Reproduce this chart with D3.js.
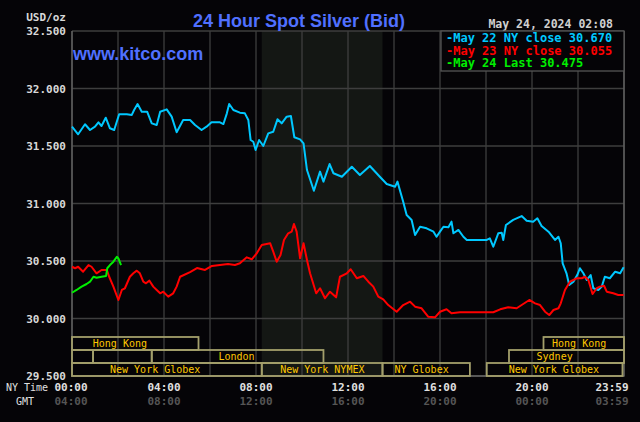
<!DOCTYPE html>
<html><head><meta charset="utf-8">
<script src="https://cdn.jsdelivr.net/npm/d3@7"></script>
<style>html,body{margin:0;padding:0;background:#050407;}svg{display:block}</style>
</head><body><svg id="c" width="640" height="422"></svg>
<script>
// ---- data (time in minutes after 00:00 NY time, price USD/oz) ----
const may22 = [[0,31.668],[16,31.602],[34,31.689],[47,31.639],[60,31.668],[69,31.706],[77,31.674],[88,31.746],[99,31.654],[110,31.639],[123,31.776],[143,31.776],[156,31.770],[162,31.813],[171,31.865],[182,31.798],[196,31.798],[208,31.697],[221,31.683],[230,31.798],[247,31.819],[260,31.755],[273,31.619],[290,31.726],[308,31.726],[321,31.683],[338,31.639],[351,31.668],[364,31.706],[386,31.706],[395,31.691],[404,31.784],[410,31.865],[421,31.813],[438,31.790],[451,31.784],[460,31.726],[466,31.552],[473,31.537],[479,31.465],[488,31.552],[499,31.500],[512,31.610],[525,31.624],[536,31.732],[547,31.697],[560,31.755],[571,31.761],[580,31.576],[595,31.558],[604,31.523],[613,31.291],[631,31.111],[647,31.277],[656,31.190],[672,31.343],[682,31.263],[704,31.233],[730,31.320],[751,31.248],[777,31.326],[803,31.233],[821,31.170],[843,31.146],[849,31.190],[864,31.016],[873,30.900],[886,30.857],[895,30.726],[908,30.798],[925,30.784],[943,30.755],[951,30.711],[960,30.755],[969,30.798],[982,30.793],[990,30.842],[995,30.741],[1008,30.770],[1021,30.711],[1030,30.683],[1082,30.683],[1090,30.697],[1099,30.624],[1112,30.741],[1121,30.746],[1125,30.683],[1132,30.813],[1151,30.857],[1173,30.891],[1186,30.850],[1203,30.842],[1214,30.871],[1225,30.804],[1243,30.755],[1260,30.683],[1269,30.711],[1275,30.654],[1280,30.480],[1290,30.393],[1297,30.291],[1308,30.320],[1318,30.378],[1325,30.437],[1334,30.393],[1343,30.335],[1353,30.378],[1360,30.263],[1373,30.248],[1382,30.277],[1390,30.363],[1403,30.350],[1417,30.407],[1430,30.393],[1439,30.445]];
const may23 = [[0,30.450],[8,30.437],[16,30.450],[29,30.407],[43,30.465],[51,30.450],[64,30.393],[77,30.422],[91,30.422],[97,30.363],[108,30.277],[121,30.161],[130,30.248],[138,30.263],[151,30.363],[160,30.393],[169,30.416],[177,30.393],[186,30.320],[193,30.306],[202,30.329],[212,30.277],[221,30.248],[230,30.219],[238,30.233],[251,30.190],[264,30.219],[273,30.277],[282,30.363],[308,30.404],[326,30.439],[347,30.422],[365,30.457],[386,30.465],[407,30.474],[425,30.465],[438,30.480],[456,30.532],[469,30.515],[482,30.567],[495,30.639],[517,30.654],[525,30.581],[534,30.494],[544,30.552],[553,30.683],[564,30.741],[573,30.755],[579,30.822],[586,30.755],[595,30.523],[604,30.654],[613,30.509],[621,30.393],[637,30.219],[647,30.263],[660,30.176],[673,30.233],[689,30.184],[699,30.363],[717,30.393],[727,30.428],[743,30.350],[760,30.370],[773,30.320],[786,30.277],[799,30.190],[812,30.167],[825,30.117],[847,30.059],[864,30.117],[882,30.146],[895,30.103],[912,30.089],[929,30.016],[947,30.010],[960,30.059],[977,30.080],[990,30.045],[1012,30.054],[1099,30.054],[1117,30.080],[1138,30.097],[1160,30.089],[1177,30.126],[1193,30.161],[1208,30.132],[1221,30.117],[1234,30.059],[1245,30.030],[1256,30.074],[1269,30.089],[1275,30.132],[1286,30.248],[1299,30.320],[1317,30.350],[1330,30.350],[1338,30.363],[1347,30.335],[1358,30.213],[1369,30.263],[1377,30.277],[1388,30.285],[1395,30.233],[1412,30.219],[1425,30.204],[1439,30.204]];
const may24 = [[0,30.224],[12,30.248],[25,30.277],[38,30.300],[47,30.320],[56,30.363],[64,30.355],[77,30.363],[89,30.370],[92,30.437],[99,30.465],[108,30.494],[117,30.537],[121,30.523],[128,30.465]];

const seriesNames = ["May 22 NY close 30.670","May 23 NY close 30.055","May 24 Last 30.475"];
const yTicks = [29.5,30.0,30.5,31.0,31.5,32.0,32.5];
const gridMinutes = d3.range(0,1441,120);
const labelMinutes = [0,240,480,720,960,1200,1439];
const nyLabels = ["00:00","04:00","08:00","12:00","16:00","20:00","23:59"];
const gmtLabels = ["04:00","08:00","12:00","16:00","20:00","00:00","03:59"];
const nymexSpan = [495,810];
const sessions = [
  {name:"Hong Kong", row:0, start:0, end:330, label:125},
  {name:"", row:1, start:0, end:55},
  {name:"", row:1, start:55, end:208},
  {name:"London", row:1, start:208, end:656, label:429},
  {name:"New York Globex", row:2, start:0, end:495, label:217},
  {name:"New York NYMEX", row:2, start:495, end:810, label:653},
  {name:"NY Globex", row:2, start:810, end:1038, label:912},
  {name:"New York Globex", row:2, start:1082, end:1436, label:1257},
  {name:"Sydney", row:1, start:1140, end:1440, label:1259},
  {name:"Hong Kong", row:0, start:1230, end:1440, label:1323}
];

// ---- drawing ----
const svg = d3.select("#c");
const W=640,H=422;
const x = d3.scaleLinear().domain([0,1440]).range([72,624]);
const y = d3.scaleLinear().domain([29.5,32.5]).range([376,31]);
const rowY = d3.scaleBand().domain([0,1,2]).range([337,376]);
const colors = ["#00c8ff","#ff0000","#00ee00"];
const mono = "'DejaVu Sans Mono', monospace";

svg.append("rect").attr("width",W).attr("height",H).attr("fill","#050407");
// nymex shade
svg.append("rect").attr("x",x(nymexSpan[0])).attr("y",y(32.5))
  .attr("width",x(nymexSpan[1])-x(nymexSpan[0])).attr("height",y(29.5)-y(32.5))
  .attr("fill","#141714");

// grid
svg.append("g").selectAll("line").data(gridMinutes).join("line")
  .attr("x1",d=>x(d)).attr("x2",d=>x(d)).attr("y1",y(32.5)).attr("y2",y(29.5))
  .attr("stroke","#3e3e3e").attr("stroke-width",1.3);
svg.append("g").selectAll("line").data(yTicks).join("line")
  .attr("x1",x(0)).attr("x2",x(1440)).attr("y1",d=>y(d)).attr("y2",d=>y(d))
  .attr("stroke","#3e3e3e").attr("stroke-width",1.3);
// frame
svg.append("path").attr("d",`M${x(0)},${y(32.5)}V${y(29.5)}H${x(1440)}V${y(32.5)}`)
  .attr("fill","none").attr("stroke","#666").attr("stroke-width",1.3);

// y axis
const ya = svg.append("g").attr("transform",`translate(${x(0)},0)`)
  .call(d3.axisLeft(y).tickValues(yTicks).tickFormat(d3.format(".3f")).tickSize(0).tickPadding(6));
ya.select(".domain").remove();
ya.selectAll("text").attr("fill","#d8d8d8").style("font",`bold 11px ${mono}`);
svg.append("text").attr("x",66).attr("y",21).attr("text-anchor","end")
  .attr("fill","#d8d8d8").style("font",`bold 11px ${mono}`).text("USD/oz");

// sessions
const sg = svg.append("g");
sg.selectAll("rect").data(sessions).join("rect")
  .attr("x",d=>x(d.start)).attr("y",d=>rowY(d.row))
  .attr("width",d=>x(d.end)-x(d.start)).attr("height",rowY.bandwidth())
  .attr("fill","none").attr("stroke","#a39f6b").attr("stroke-width",1.8);
sg.selectAll("text").data(sessions.filter(d=>d.name)).join("text")
  .attr("x",d=>x(d.label)).attr("y",d=>rowY(d.row)+rowY.bandwidth()/2+3.5)
  .attr("text-anchor","middle").attr("fill","#ffc800")
  .style("font",`10px ${mono}`).text(d=>d.name);

// lines
const line = d3.line().x(d=>x(d[0])).y(d=>y(d[1]));
[may22,may23,may24].forEach((s,i)=>{
  svg.append("path").datum(s).attr("d",line).attr("fill","none")
    .attr("stroke",colors[i]).attr("stroke-width",2).attr("stroke-linejoin","round");
});

// x labels
const xl = svg.append("g");
xl.selectAll("text.ny").data(labelMinutes).join("text").attr("class","ny")
  .attr("x",(d,i)=>i===labelMinutes.length-1? x(d)+5 : (i===0? x(d)-1 : x(d)))
  .attr("text-anchor",(d,i)=>i===labelMinutes.length-1?"end":"middle")
  .attr("y",391).attr("fill","#e0e0e0").style("font",`bold 11px ${mono}`)
  .text((d,i)=>nyLabels[i]);
xl.selectAll("text.gmt").data(labelMinutes).join("text").attr("class","gmt")
  .attr("x",(d,i)=>i===labelMinutes.length-1? x(d)+5 : (i===0? x(d)-1 : x(d)))
  .attr("text-anchor",(d,i)=>i===labelMinutes.length-1?"end":"middle")
  .attr("y",405).attr("fill","#555").style("font",`bold 11px ${mono}`)
  .text((d,i)=>gmtLabels[i]);
svg.append("text").attr("x",6).attr("y",391).attr("fill","#e0e0e0")
  .style("font",`10px ${mono}`).text("NY Time");
svg.append("text").attr("x",16).attr("y",405).attr("fill","#e0e0e0")
  .style("font",`10px ${mono}`).text("GMT");

// title & header
svg.append("text").attr("x",299).attr("y",27).attr("text-anchor","middle")
  .attr("fill","#5070ff").style("font","bold 18px 'Liberation Sans', Arial, sans-serif")
  .text("24 Hour Spot Silver (Bid)");
svg.append("text").attr("x",73).attr("y",60)
  .attr("fill","#5070ff").style("font","bold 18px 'Liberation Sans', Arial, sans-serif")
  .text("www.kitco.com");
svg.append("text").attr("x",613).attr("y",28).attr("text-anchor","end")
  .attr("fill","#d0d0d0").style("font",`bold 11.5px ${mono}`).text("May 24, 2024 02:08");

// legend
const lg = svg.append("g");
lg.append("rect").attr("x",441).attr("y",y(32.5)).attr("width",x(1440)-441).attr("height",40)
  .attr("fill","#050407").attr("stroke","#555").attr("stroke-width",1.3);
lg.selectAll("text").data(seriesNames).join("text")
  .attr("x",446).attr("y",(d,i)=>42+i*12.5).attr("fill",(d,i)=>colors[i])
  .style("font",`bold 12px ${mono}`).text(d=>"-"+d);
</script></body></html>
